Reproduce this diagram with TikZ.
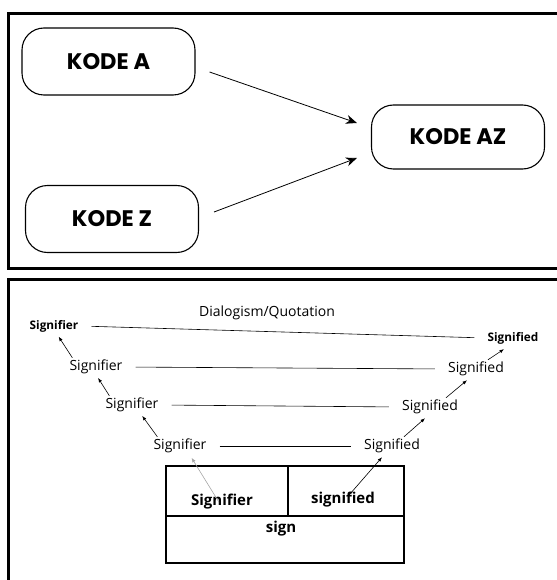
\documentclass[tikz,border=0pt]{standalone}
\usepackage{fontspec}
\setmainfont{Open Sans}
\newfontfamily\kodefont{Poppins}
\usetikzlibrary{arrows.meta}

\tikzset{
    kode/.style={draw, line width=1.1pt, rounded corners=22pt, minimum width=173pt, minimum height=67pt,
        font=\kodefont\bfseries\fontsize{22.5}{26}\selectfont},
    lvl/.style={inner sep=2pt, font=\fontsize{14}{16}\selectfont},
    toplvl/.style={inner sep=2pt, font=\bfseries\fontsize{11.8}{14}\selectfont},
    cell/.style={inner sep=2pt, font=\bfseries\fontsize{15}{18}\selectfont},
    levelline/.style={line width=0.6pt, shorten <=11pt, shorten >=11pt},
    up/.style={-{Latex[length=4.5pt,width=3.5pt]}, line width=0.6pt},
    panel/.style={line width=2.6pt}
}

\begin{document}
\begin{tikzpicture}[x=1pt, y=-1pt]
                \useasboundingbox (0,0) rectangle (556,580);
                \draw[panel] (560,13.5) -- (8.5,13.5) -- (8.5,268.5) -- (560,268.5);
                \draw[panel] (560,279.5) -- (8.5,279.5) -- (8.5,590);

                \node[kode] (kodeA) at (108.5,61.5) {KODE A};
                \node[kode] (kodeZ) at (112,219) {KODE Z};
                \node[kode, minimum height=64pt] (kodeAZ) at (458,137) {KODE AZ};
                \draw[-{Stealth[length=11pt,width=9pt]}, line width=0.8pt] ([shift={(14,10.5)}]kodeA.east) -- ([shift={(-14,-14)}]kodeAZ.west);
                \draw[-{Stealth[length=11pt,width=9pt]}, line width=0.8pt] ([shift={(15,-7)}]kodeZ.east) -- ([shift={(-14,21)}]kodeAZ.west);

                \node[lvl] (dq) at (267,313) {Dialogism/Quotation};
                \node[toplvl] (sr1) at (54,326) {Signifier};
                \node[toplvl] (sd1) at (513,338) {Signified};
                \node[lvl] (sr2) at (96,367) {Signifier};
                \node[lvl] (sd2) at (476,369) {Signified};
                \node[lvl] (sr3) at (132,405) {Signifier};
                \node[lvl] (sd3) at (430,407) {Signified};
                \node[lvl] (sr4) at (180,446) {Signifier};
                \node[lvl] (sd4) at (392,446) {Signified};
                \draw[levelline] (sr1.east) -- (sd1.west);
                \draw[levelline] (sr2.east) -- (sd2.west);
                \draw[levelline] (sr3.east) -- (sd3.west);
                \draw[levelline] (sr4.east) -- (sd4.west);

                \draw[line width=2.4pt] (166,466) rectangle (404,563);
                \draw[line width=1.2pt] (166,516) -- (404,516);
                \draw[line width=1.2pt] (288,466) -- (288,516);
                \node[cell] (bsr) at (222,502) {Signifier};
                \node[cell] (bsd) at (343,500) {signified};
                \node[cell] (bsign) at (281,529) {sign};

                \draw[up, shorten >=3pt] ([xshift=5pt]sr2.north west) -- ([xshift=3pt]sr1.south);
                \draw[up, shorten >=2pt] ([xshift=6pt]sr3.north west) -- ([xshift=1pt]sr2.south);
                \draw[up, shorten >=2pt] ([xshift=6pt]sr4.north west) -- ([xshift=9pt]sr3.south);
                \draw[up, gray!70, shorten >=3pt] ([shift={(-3,10)}]bsr.north) -- ([xshift=10pt]sr4.south);
                \draw[up] ([xshift=12pt]sd2.north) -- ([shift={(-9,3)}]sd1.south);
                \draw[up] ([xshift=16pt]sd3.north) -- ([shift={(-9,2)}]sd2.south);
                \draw[up] ([xshift=12pt]sd4.north) -- ([shift={(-5,2)}]sd3.south);
                \draw[up] ([shift={(5,6)}]bsd.north) -- ([shift={(-10,2)}]sd4.south);
\end{tikzpicture}
\end{document}
